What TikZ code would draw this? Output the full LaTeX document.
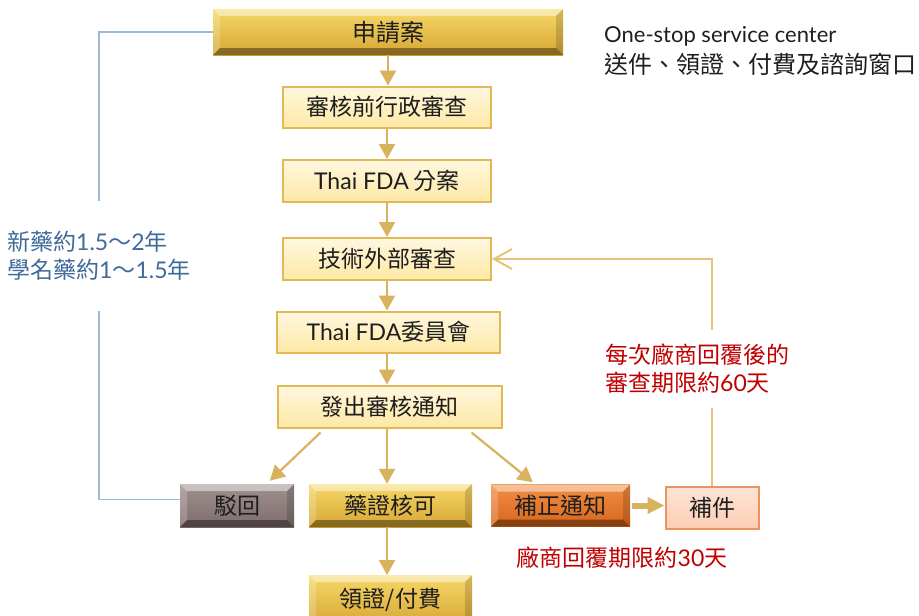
\documentclass[tikz,border=0pt]{standalone}
\usepackage{fontspec}
\setmainfont{Noto Sans CJK TC}
\newfontfamily\lat{Lato}
\usetikzlibrary{arrows.meta,calc}
\definecolor{arrowc}{HTML}{D8B25C}
\definecolor{loopc}{HTML}{E6C27A}
\definecolor{bluel}{HTML}{9DB9D3}
\definecolor{bluetxt}{HTML}{3F6A9A}
\definecolor{redtxt}{HTML}{C00000}
\definecolor{txt}{HTML}{1E1E1E}
\definecolor{plainedge}{HTML}{E2B856}
\definecolor{plaintop}{HTML}{FFF8E0}
\definecolor{plainbot}{HTML}{FEE8A4}
\definecolor{goldtop}{HTML}{F6D868}
\definecolor{goldbot}{HTML}{D6A634}
\definecolor{greytop}{HTML}{A09090}
\definecolor{greybot}{HTML}{7E6C6C}
\definecolor{orgtop}{HTML}{F08E44}
\definecolor{orgbot}{HTML}{D8661C}
\definecolor{supptop}{HTML}{FEE4D6}
\definecolor{suppbot}{HTML}{FBCDB4}
\definecolor{suppedge}{HTML}{EA9460}
\newcommand{\bevelfaces}[1]{%
  \path (path picture bounding box.north west) coordinate (bnw)
        (path picture bounding box.north east) coordinate (bne)
        (path picture bounding box.south west) coordinate (bsw)
        (path picture bounding box.south east) coordinate (bse);
  \fill[white,opacity=0.45] (bnw) -- (bne) -- ([shift={(-#1,-#1)}]bne) -- ([shift={(#1,-#1)}]bnw) -- cycle;
  \fill[white,opacity=0.2] (bnw) -- (bsw) -- ([shift={(#1,#1)}]bsw) -- ([shift={(#1,-#1)}]bnw) -- cycle;
  \fill[black,opacity=0.15] (bne) -- (bse) -- ([shift={(-#1,#1)}]bse) -- ([shift={(-#1,-#1)}]bne) -- cycle;
  \fill[black,opacity=0.38] (bsw) -- (bse) -- ([shift={(-#1,#1)}]bse) -- ([shift={(#1,#1)}]bsw) -- cycle;
}
\tikzset{
  every node/.style={font=\fontsize{23}{28}\selectfont, text=txt},
  box/.style={rectangle, inner sep=0pt},
  plainbox/.style={box, draw=plainedge, line width=2pt, top color=plaintop, bottom color=plainbot},
  bevelbox/.style 2 args={box, top color=#1, bottom color=#2, path picture={\bevelfaces{7pt}}},
  arr/.style={draw=arrowc, line width=2.2pt, -{Triangle[width=16pt,length=15pt]}},
  loopline/.style={draw=loopc, line width=2pt, -{Straight Barb[length=18pt,width=20pt,line width=2pt]}},
  blueline/.style={draw=bluel, line width=1.6pt},
}
\begin{document}
\begin{tikzpicture}[x=1pt,y=-1pt]
\useasboundingbox (0,0) rectangle (919,616);
% boxes
\node[bevelbox={goldtop}{goldbot}, minimum width=350pt, minimum height=46pt, font=\fontsize{24}{28}\selectfont] (appl) at (388,32) {申請案};
\node[plainbox, minimum width=208pt, minimum height=41pt] (s1) at (387,107) {審核前行政審查};
\node[plainbox, minimum width=208pt, minimum height=42pt] (s2) at (387,181) {{\lat Thai FDA} 分案};
\node[plainbox, minimum width=208pt, minimum height=42pt] (s3) at (387,259) {技術外部審查};
\node[plainbox, minimum width=223pt, minimum height=41pt] (s4) at (388.5,332) {{\lat Thai FDA}委員會};
\node[plainbox, minimum width=224pt, minimum height=42pt] (s5) at (389.5,406.5) {發出審核通知};
\node[bevelbox={greytop}{greybot}, minimum width=114pt, minimum height=43pt] (rej) at (237,505.5) {駁回};
\node[bevelbox={goldtop}{goldbot}, minimum width=163pt, minimum height=43pt] (appr) at (390.5,505.5) {藥證核可};
\node[bevelbox={orgtop}{orgbot}, minimum width=139pt, minimum height=42pt] (corr) at (560.5,505.5) {補正通知};
\node[box, draw=suppedge, line width=2pt, top color=supptop, bottom color=suppbot, minimum width=93pt, minimum height=42pt] (supp) at (712,507.5) {補件};
\node[bevelbox={goldtop}{goldbot}, minimum width=163pt, minimum height=50pt, anchor=north] (lic) at (390.5,575) {領證/付費};
% connectors
\draw[arr] (appl.south) -- (appl.south |- s1.north);
\draw[arr] (s1.south) -- (s1.south |- s2.north);
\draw[arr] (s2.south) -- (s2.south |- s3.north);
\draw[arr] (s3.south) -- (s3.south |- s4.north);
\draw[arr] (s4.south -| s3.south) -- (s5.north -| s3.south);
\draw[arr] (s5.south -| s3.south) -- (appr.north -| s3.south);
\draw[arr] ([xshift=44pt,yshift=-4pt]s5.south west) -- ([xshift=90pt,yshift=3pt]rej.north west);
\draw[arr] ([xshift=-31pt,yshift=-4pt]s5.south east) -- ([xshift=42pt,yshift=2pt]corr.north west);
\draw[arr] (appr.south -| s3.south) -- (lic.north -| s3.south);
\draw[draw=arrowc, line width=6pt, -{Triangle[width=16pt,length=17pt]}] ([xshift=2pt]corr.east) -- (corr.east -| supp.west);
\draw[loopline] (supp.north) |- (s3.east);
\draw[blueline] (appl.west) -- ++(-114,0) |- ([yshift=6pt]rej.west);
% labels
\node[anchor=west, fill=white, minimum height=110pt, inner xsep=2pt, align=left, text=bluetxt] (bluelab) at (5,256) {新藥約{\lat 1.5}～{\lat 2}年\\學名藥約{\lat 1}～{\lat 1.5}年};
\node[anchor=west, fill=white, minimum height=78pt, inner xsep=2pt, align=left, text=redtxt] (redlab) at (603,369) {每次廠商回覆後的\\審查期限約{\lat 60}天};
\node[text=redtxt] (redlab2) at (622,558) {廠商回覆期限約{\lat 30}天};
\node[anchor=west, inner sep=0pt, align=left, font=\fontsize{24}{31}\selectfont] (osc) at (604,51) {{\lat\fontsize{22}{31}\selectfont One-stop service center}\\送件、領證、付費及諮詢窗口};
\end{tikzpicture}
\end{document}
